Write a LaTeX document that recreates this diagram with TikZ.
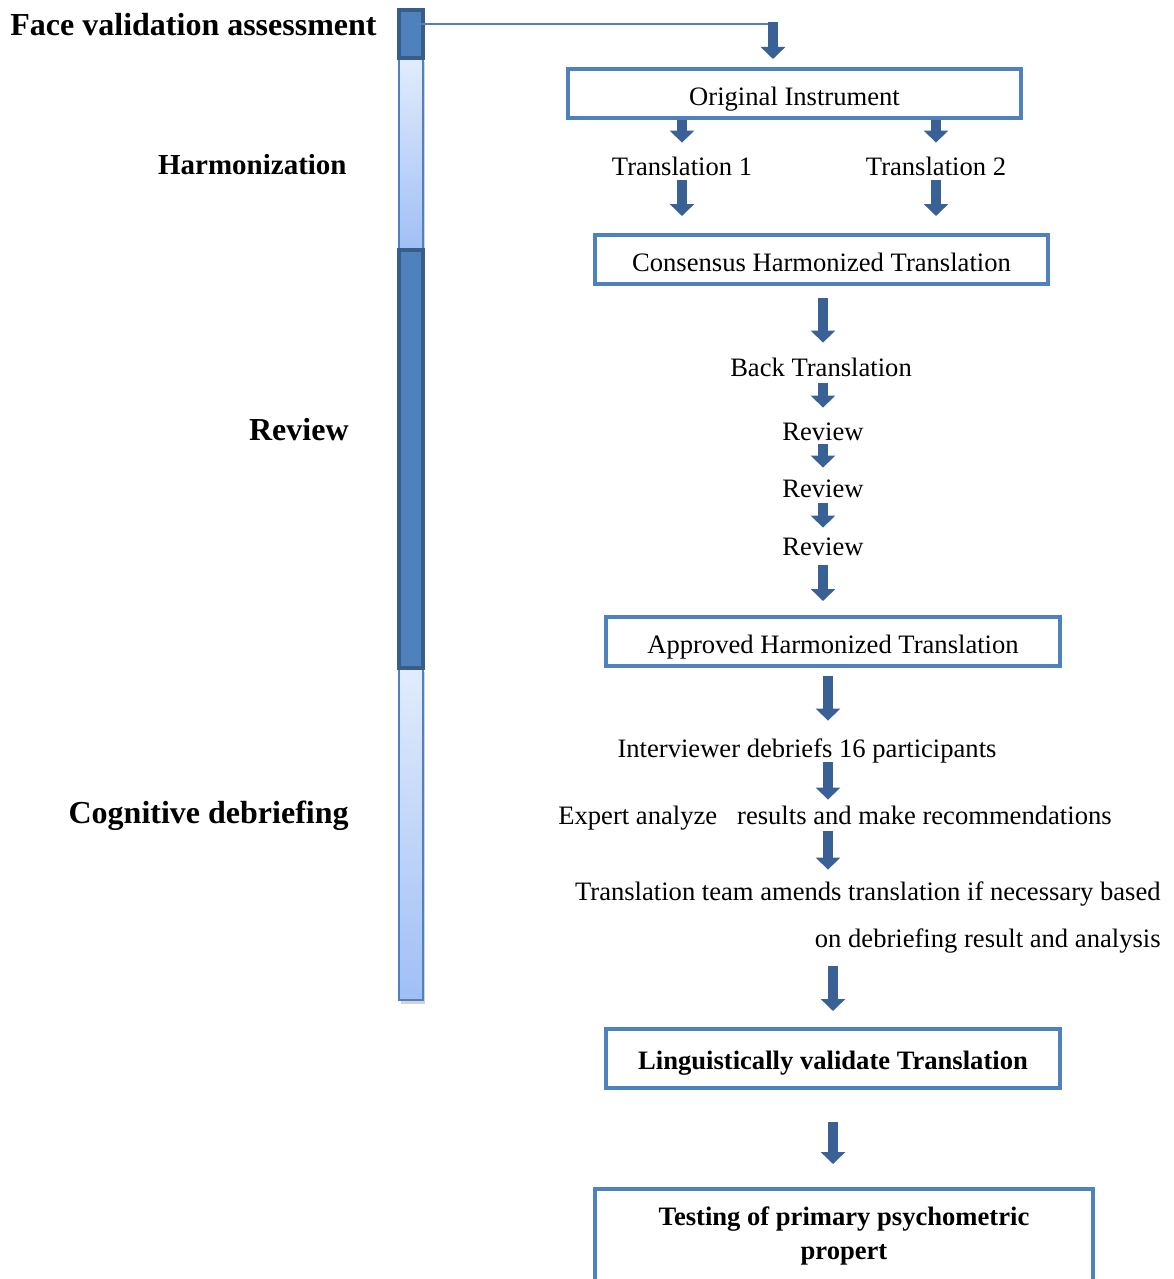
\documentclass[tikz,border=0pt]{standalone}
\usepackage{fontspec}
\setmainfont{Liberation Serif}
\usetikzlibrary{arrows.meta,positioning,shadows}
\definecolor{boxblue}{HTML}{4F81BD}
\definecolor{arrowblue}{HTML}{3A6196}
\definecolor{bardark}{HTML}{385D8A}
\definecolor{barlighttop}{HTML}{E2ECFC}
\definecolor{barlightbot}{HTML}{A0BFF5}

\begin{document}
\begin{tikzpicture}[x=0.5pt,y=-0.5pt,>={Triangle[width=12pt,length=6pt]},
  every node/.style={font=\fontsize{13.3}{17}\selectfont},
  txt/.style={inner sep=0pt,text height=8.8pt,text depth=0pt},
  stage/.style={inner sep=0pt,text height=10.8pt,text depth=0pt,font=\fontsize{16}{19}\selectfont\bfseries},
  box/.style={draw=boxblue,line width=2pt,inner sep=0pt,minimum width=226.5pt,minimum height=24.5pt},
  onebox/.style={box,text height=11.8pt,text depth=0pt},
  flow/.style={->,draw=arrowblue,line width=5pt},
  darkbar/.style={draw=bardark,fill=boxblue,line width=1.75pt,minimum width=12pt,inner sep=0pt},
  lightbar/.style={draw=boxblue,line width=1pt,top color=barlighttop,bottom color=barlightbot,minimum width=12pt,inner sep=0pt,
    drop shadow={shadow xshift=0.8pt,shadow yshift=-2pt,opacity=0.35}}]
  \clip (0,0) rectangle (1173,1279);
  \node[lightbar,minimum height=96pt] (harmbar) at (411,154) {};
  \node[lightbar,minimum height=166pt] (cogbar) at (411,834) {};
  \node[darkbar,minimum height=24pt] (fvbar) at (411,34) {};
  \node[darkbar,minimum height=209pt] (revbar) at (411,459) {};

  \node[stage,anchor=west] (fv) at (10,25) {Face validation assessment};
  \node[stage,anchor=east,font=\fontsize{14.5}{17}\selectfont\bfseries,text height=9.8pt] (harm) at (347,165) {Harmonization};
  \node[stage,anchor=east] (rev) at (349,430) {Review};
  \node[stage,anchor=east] (cog) at (349,813) {Cognitive debriefing};

  \coordinate (entry) at (773,24);
  \coordinate (lane) at (828,0);
  \node[onebox] (orig) at (794.5,93.5) {Original Instrument};
  \node[txt] (t1) at (682,167) {Translation 1};
  \node[txt,node distance=127pt,right of=t1] (t2) {Translation 2};
  \node[onebox] (cons) at (821.5,259.5) {Consensus Harmonized Translation};
  \node[txt] (back) at (821,368) {Back Translation};
  \node[txt] (rev1) at (823,432) {Review};
  \node[txt] (rev2) at (823,489) {Review};
  \node[txt] (rev3) at (823,547) {Review};
  \node[onebox,minimum width=227pt] (appr) at (833,641.5) {Approved Harmonized Translation};
  \node[txt] (interv) at (807,749) {Interviewer debriefs 16 participants};
  \node[txt] (expert) at (835,816) {Expert analyze\ \ \ results and make recommendations};
  \node[txt,anchor=east] (team1) at (1161,892) {Translation team amends translation if necessary based};
  \node[txt,anchor=east] (team2) at (1161,939) {on debriefing result and analysis};
  \node[onebox,minimum width=227pt,minimum height=29.5pt,text height=11.2pt,font=\fontsize{13.3}{17}\selectfont\bfseries] (ling) at (833,1058.5) {Linguistically validate Translation};
  \node[box,minimum width=249pt,minimum height=47pt,align=center,font=\fontsize{13.3}{17}\selectfont\bfseries] (test) at (844,1236) {Testing of primary psychometric\\propert};

  \draw[boxblue,line width=0.75pt] (fvbar.center |- entry) -- (entry);
  \draw[flow,shorten >=4pt] ([yshift=1pt]entry) -- (entry |- orig.north);
  \draw[flow,shorten >=7.6pt] (orig.south -| t1) -- (t1);
  \draw[flow,shorten >=7.6pt] (orig.south -| t2) -- (t2);
  \draw[flow,shorten <=2.1pt,shorten >=8.5pt] (t1) -- (t1 |- cons.north);
  \draw[flow,shorten <=2.1pt,shorten >=8.5pt] (t2) -- (t2 |- cons.north);
  \draw[flow,shorten <=6pt,shorten >=8.1pt] (cons.south -| rev1) -- (back.north -| rev1);
  \draw[flow,shorten <=3.1pt,shorten >=7.6pt] (back.south -| rev1) -- (rev1);
  \draw[flow,shorten <=1.6pt,shorten >=6.1pt] (rev1) -- (rev2);
  \draw[flow,shorten <=2.6pt,shorten >=5.1pt] (rev2) -- (rev3);
  \draw[flow,shorten <=4.6pt,shorten >=7pt] (rev3) -- (rev3 |- appr.north);
  \draw[flow,shorten <=4pt,shorten >=9.6pt] (appr.south -| lane) -- (interv.north -| lane);
  \draw[flow,shorten <=2.1pt,shorten >=3.6pt] (interv.south -| lane) -- (expert.north -| lane);
  \draw[flow,shorten <=3.1pt,shorten >=6.6pt] (expert.south -| lane) -- (team1.north -| lane);
  \draw[flow,shorten <=9.1pt,shorten >=8pt] (team2.south -| ling) -- (ling);
  \draw[flow,shorten <=16pt,shorten >=11.5pt] (ling) -- (ling |- test.north);
\end{tikzpicture}
\end{document}
